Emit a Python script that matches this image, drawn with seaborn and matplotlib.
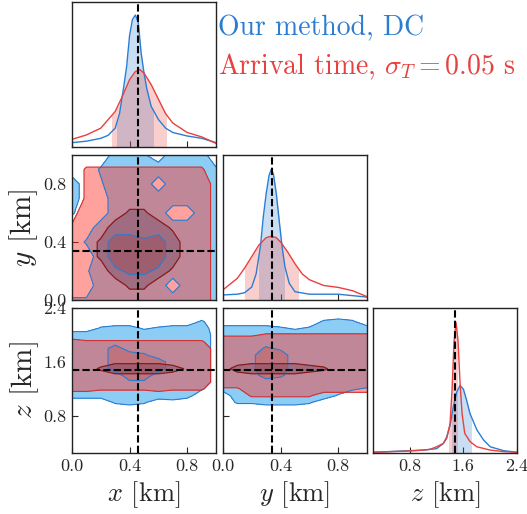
import numpy as np
import matplotlib
matplotlib.use("Agg")
import matplotlib.pyplot as plt
import matplotlib.patches as mpatches
import seaborn as sns

# true source position (dashed lines)
truth_x = 0.46
truth_y = 0.34
truth_z = 1.48

# 1D marginals, heights read as fraction of the panel height
mx_blue_pos = [0.0, 0.1, 0.2, 0.25, 0.3, 0.33, 0.36, 0.38, 0.40, 0.42, 0.44, 0.46, 0.48, 0.50, 0.52, 0.55, 0.6, 0.65, 0.7, 0.8, 0.9, 1.0]
mx_blue_val = [0.03, 0.04, 0.06, 0.08, 0.13, 0.23, 0.42, 0.56, 0.77, 0.88, 0.91, 0.86, 0.65, 0.51, 0.40, 0.28, 0.19, 0.13, 0.10, 0.076, 0.06, 0.03]
mx_red_pos = [0.0, 0.1, 0.2, 0.3, 0.35, 0.4, 0.44, 0.47, 0.5, 0.55, 0.6, 0.65, 0.7, 0.8, 0.9, 1.0]
mx_red_val = [0.053, 0.083, 0.13, 0.245, 0.35, 0.465, 0.52, 0.535, 0.51, 0.43, 0.33, 0.23, 0.165, 0.10, 0.07, 0.025]

my_blue_pos = [0.0, 0.1, 0.15, 0.2, 0.23, 0.26, 0.28, 0.30, 0.32, 0.335, 0.35, 0.37, 0.39, 0.41, 0.43, 0.46, 0.5, 0.6, 0.7, 0.8, 0.9, 1.0]
my_blue_val = [0.035, 0.04, 0.05, 0.09, 0.18, 0.37, 0.575, 0.735, 0.86, 0.90, 0.87, 0.735, 0.55, 0.37, 0.23, 0.115, 0.057, 0.04, 0.04, 0.04, 0.03, 0.02]
my_red_pos = [0.0, 0.1, 0.15, 0.2, 0.25, 0.3, 0.335, 0.37, 0.4, 0.45, 0.5, 0.55, 0.6, 0.7, 0.8, 0.9, 1.0]
my_red_val = [0.07, 0.15, 0.22, 0.30, 0.38, 0.43, 0.44, 0.43, 0.40, 0.33, 0.25, 0.18, 0.14, 0.10, 0.087, 0.064, 0.023]

mz_blue_pos = [0.25, 0.5, 0.8, 1.0, 1.2, 1.3, 1.35, 1.4, 1.45, 1.5, 1.55, 1.6, 1.65, 1.7, 1.8, 1.9, 2.0, 2.2, 2.4]
mz_blue_val = [0.005, 0.01, 0.016, 0.02, 0.03, 0.066, 0.11, 0.19, 0.32, 0.42, 0.466, 0.44, 0.36, 0.27, 0.16, 0.09, 0.043, 0.016, 0.005]
mz_red_pos = [0.25, 0.8, 1.0, 1.1, 1.2, 1.3, 1.35, 1.4, 1.43, 1.46, 1.49, 1.52, 1.55, 1.58, 1.62, 1.7, 1.8, 2.0, 2.2, 2.4]
mz_red_val = [0.005, 0.014, 0.02, 0.025, 0.043, 0.066, 0.10, 0.20, 0.43, 0.77, 0.90, 0.77, 0.48, 0.27, 0.135, 0.078, 0.043, 0.02, 0.01, 0.005]

# shaded credible intervals
ix_blue, ix_red = (0.31, 0.56), (0.28, 0.65)
iy_blue, iy_red = (0.247, 0.426), (0.15, 0.52)
iz_blue, iz_red = (1.43, 1.72), (1.39, 1.50)

# 2D density levels (0 = outside, 5 = outer level, 8 = inner level)
grid_xy = [0.0, 0.1, 0.2, 0.3, 0.4, 0.5, 0.6, 0.7, 0.8, 0.9, 1.0]
rows_y = [1.0, 0.9, 0.8, 0.7, 0.6, 0.5, 0.4, 0.3, 0.2, 0.1, 0.0]
rows_z = [2.3, 2.2, 2.1, 2.0, 1.9, 1.8, 1.7, 1.6, 1.5, 1.4, 1.3, 1.2, 1.1, 1.0, 0.9]

xy_blue = ["00045305540", "00355555553", "50255505555", "50055555555", "30055550055",
           "00555555555", "03588785555", "00588885555", "02567765555", "00555550555",
           "33555555553"]
xy_red = ["00000000000", "03333333330", "03555555551", "03555555551", "15557755551",
          "35588886551", "35788888551", "35788888551", "35588886551", "35557755551",
          "35555555551"]

xz_blue = ["00000000000", "00000000030", "00344234450", "55555555551", "55555555551",
           "55585555551", "55588755551", "55588885551", "55588885551", "55558855551",
           "55556655551", "55555555530", "44455555400", "00034301000", "00000000000"]
xz_red = ["00000000000", "00000000000", "00000000000", "00000000000", "43333333330",
          "55555555551", "55555555551", "55566665551", "55788888651", "55566665551",
          "55555555551", "44333343330", "00000000000", "00000000000", "00000000000"]

yz_blue = ["00000000000", "00000003430", "44443235554", "55555555555", "55555555555",
           "55576555555", "55688555555", "55688555555", "55688555555", "55587555555",
           "55555555555", "45555555532", "05555555200", "03344430000", "00000000000"]
yz_red = ["00000000000", "00000000000", "00000000000", "22233333333", "55555555555",
          "55555555555", "55555555555", "55666655555", "58888887555", "55666655555",
          "55555555555", "22555555555", "00333330000", "00000000000", "00000000000"]

xy_ticks, xy_labels = [0.0, 0.4, 0.8], ["0.0", "0.4", "0.8"]
z_ticks, z_labels = [0.8, 1.6, 2.4], ["0.8", "1.6", "2.4"]
lim_xy = (0.0, 1.0)
lim_z = (0.25, 2.4)

blue = "#2b7dd2"
red = "#e8403f"

sns.set_style("white")
plt.rcParams["font.family"] = ["cmr10"]
plt.rcParams["mathtext.fontset"] = "cm"
plt.rcParams["axes.formatter.use_mathtext"] = True
plt.rcParams["axes.unicode_minus"] = False


def to_grid(rows):
    return np.array([[float(c) for c in r] for r in rows[::-1]])


def draw_pair(ax, gx, gy, brows, rrows):
    b = to_grid(brows)
    r = to_grid(rrows)
    gy = gy[::-1]
    ax.contourf(gx, gy, b, levels=[2.5, 10], colors=["#8ccdf5"])
    ax.contour(gx, gy, b, levels=[2.5], colors=[blue], linewidths=0.8)
    ax.contourf(gx, gy, b, levels=[6.5, 10], colors=["#89a9c4"])
    ax.contour(gx, gy, b, levels=[6.5], colors=[blue], linewidths=0.8)
    ax.contourf(gx, gy, r, levels=[2.5, 10], colors=["#ff3228"], alpha=0.45)
    ax.contour(gx, gy, r, levels=[2.5], colors=["#d33030"], linewidths=0.8)
    ax.contourf(gx, gy, r, levels=[6.5, 10], colors=["#5a3050"], alpha=0.3)
    ax.contour(gx, gy, r, levels=[6.5], colors=["#8b1c1c"], linewidths=0.9)


def draw_marginal(ax, bpos, bval, rpos, rval, bint, rint):
    for pos, val, col, span in [(bpos, bval, blue, bint), (rpos, rval, red, rint)]:
        poly = ax.fill_between(pos, val, color=col, alpha=0.25, lw=0)
        clip = mpatches.Rectangle((span[0], 0), span[1] - span[0], 2, transform=ax.transData)
        poly.set_clip_path(clip)
    sns.lineplot(x=bpos, y=bval, ax=ax, color=blue, linewidth=1.0, estimator=None)
    sns.lineplot(x=rpos, y=rval, ax=ax, color=red, linewidth=1.0, estimator=None)
    ax.set_ylim(0, 1)
    ax.set_yticks([])


fig = plt.figure(figsize=(5.27, 5.14), dpi=100)
col_x = [72 / 527, 223 / 527, 373 / 527]
row_y = [1 - 147 / 514, 1 - 300 / 514, 1 - 453 / 514]
w, h = 144 / 527, 145 / 514
axes = {}
for i in range(3):
    for j in range(i + 1):
        axes[i, j] = fig.add_axes([col_x[j], row_y[i], w, h])

draw_marginal(axes[0, 0], mx_blue_pos, mx_blue_val, mx_red_pos, mx_red_val, ix_blue, ix_red)
draw_marginal(axes[1, 1], my_blue_pos, my_blue_val, my_red_pos, my_red_val, iy_blue, iy_red)
draw_marginal(axes[2, 2], mz_blue_pos, mz_blue_val, mz_red_pos, mz_red_val, iz_blue, iz_red)
draw_pair(axes[1, 0], np.array(grid_xy), np.array(rows_y), xy_blue, xy_red)
draw_pair(axes[2, 0], np.array(grid_xy), np.array(rows_z), xz_blue, xz_red)
draw_pair(axes[2, 1], np.array(grid_xy), np.array(rows_z), yz_blue, yz_red)

truths = [truth_x, truth_y, truth_z]
lims = [lim_xy, lim_xy, lim_z]
ticks = [(xy_ticks, xy_labels), (xy_ticks, xy_labels), (z_ticks, z_labels)]
names = ["$x$ [km]", "$y$ [km]", "$z$ [km]"]
dash = (0, (3.5, 1.5))

for (i, j), ax in axes.items():
    ax.set_xlim(*lims[j])
    ax.set_xticks(ticks[j][0])
    ax.axvline(truths[j], color="k", ls=dash, lw=1.5)
    if i != j:
        ax.set_ylim(*lims[i])
        ax.set_yticks(ticks[i][0])
        ax.axhline(truths[i], color="k", ls=dash, lw=1.5)
        if j == 0:
            ax.set_yticklabels(ticks[i][1])
            ax.set_ylabel(names[i], fontsize=21, labelpad=2)
        else:
            ax.set_yticklabels([])
    if i == 2:
        ax.set_xticklabels(ticks[j][1])
        ax.set_xlabel(names[j], fontsize=19)
    else:
        ax.set_xticklabels([])
    ax.tick_params(direction="in", length=4, width=0.8, labelsize=13,
                   bottom=True, left=(i != j), pad=4)
    for s in ax.spines.values():
        s.set_linewidth(1.0)
        s.set_color("#222222")

fig.text(218 / 527, 1 - 35 / 514, "Our method, DC", color=blue, fontsize=20, va="baseline")
fig.text(218 / 527, 1 - 74 / 514, "Arrival time, $\\sigma_T = 0.05$ s", color=red,
         fontsize=20, va="baseline")

fig.savefig("out.png", dpi=100)
